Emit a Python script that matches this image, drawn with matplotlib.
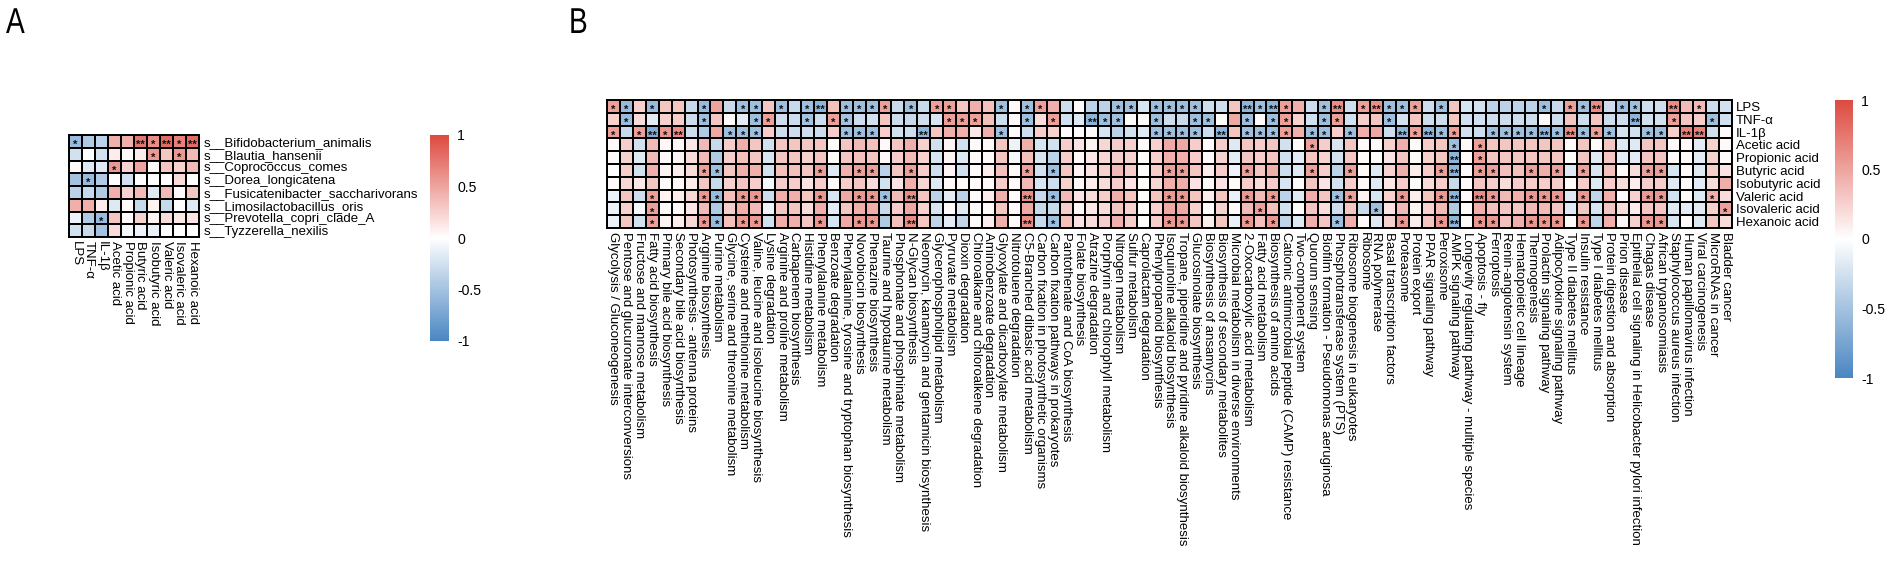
import numpy as np
import matplotlib
matplotlib.use("Agg")
import matplotlib.pyplot as plt
from matplotlib.colors import LinearSegmentedColormap, Normalize
from matplotlib.cm import ScalarMappable
from matplotlib.textpath import TextPath
from matplotlib.patches import PathPatch
from matplotlib.font_manager import FontProperties
from matplotlib.transforms import Affine2D

plt.rcParams["font.family"] = ["Liberation Sans", "DejaVu Sans"]

# ==========================================================
# PANEL A DATA  (species x metabolites, read as r x 80)
# ==========================================================

a_cols = ["LPS", "TNF-α", "IL-1β", "Acetic acid", "Propionic acid",
          "Butyric acid", "Isobutyric acid", "Valeric acid",
          "Isovaleric acid", "Hexanoic acid"]

a_rows = ["s__Bifidobacterium_animalis", "s__Blautia_hansenii",
          "s__Coprococcus_comes", "s__Dorea_longicatena",
          "s__Fusicatenibacter_saccharivorans", "s__Limosilactobacillus_oris",
          "s__Prevotella_copri_clade_A", "s__Tyzzerella_nexilis"]

a_bifido = [-45, -35, -30, 35, 35, 60, 50, 65, 55, 65]
a_blautia = [-20, 0, -20, 8, 3, 8, 45, 25, 45, 30]
a_copro = [2, -15, -15, 45, 20, 40, 3, 25, 20, 30]
a_dorea = [-40, -45, -35, 0, -20, 0, 0, 0, 15, 0]
a_fusi = [-30, -25, -35, 35, 20, 30, -15, 30, 3, 25]
a_limo = [35, 35, 8, -15, 2, -25, 5, -25, 0, -15]
a_prevo = [-8, -35, -45, 25, 3, 20, 5, 15, 10, 12]
a_tyzz = [-20, -25, -40, 15, -5, -8, -10, 0, 0, 0]

# significance marks: (row, col, mark)
a_stars = [(0, 0, "*"), (0, 5, "**"), (0, 6, "*"), (0, 7, "**"), (0, 8, "*"),
           (0, 9, "**"), (1, 6, "*"), (1, 8, "*"), (2, 3, "*"), (3, 1, "*"),
           (6, 2, "*")]

# ==========================================================
# PANEL B DATA  (metabolites x KEGG pathways, read as r x 80)
# ==========================================================

b_rows = a_cols

b_cols = [
    "Glycolysis / Gluconeogenesis",
    "Pentose and glucuronate interconversions",
    "Fructose and mannose metabolism",
    "Fatty acid biosynthesis",
    "Primary bile acid biosynthesis",
    "Secondary bile acid biosynthesis",
    "Photosynthesis - antenna proteins",
    "Arginine biosynthesis",
    "Purine metabolism",
    "Glycine, serine and threonine metabolism",
    "Cysteine and methionine metabolism",
    "Valine, leucine and isoleucine biosynthesis",
    "Lysine degradation",
    "Arginine and proline metabolism",
    "Carbapenem biosynthesis",
    "Histidine metabolism",
    "Phenylalanine metabolism",
    "Benzoate degradation",
    "Phenylalanine, tyrosine and tryptophan biosynthesis",
    "Novobiocin biosynthesis",
    "Phenazine biosynthesis",
    "Taurine and hypotaurine metabolism",
    "Phosphonate and phosphinate metabolism",
    "N-Glycan biosynthesis",
    "Neomycin, kanamycin and gentamicin biosynthesis",
    "Glycerophospholipid metabolism",
    "Pyruvate metabolism",
    "Dioxin degradation",
    "Chloroalkane and chloroalkene degradation",
    "Aminobenzoate degradation",
    "Glyoxylate and dicarboxylate metabolism",
    "Nitrotoluene degradation",
    "C5-Branched dibasic acid metabolism",
    "Carbon fixation in photosynthetic organisms",
    "Carbon fixation pathways in prokaryotes",
    "Pantothenate and CoA biosynthesis",
    "Folate biosynthesis",
    "Atrazine degradation",
    "Porphyrin and chlorophyll metabolism",
    "Nitrogen metabolism",
    "Sulfur metabolism",
    "Caprolactam degradation",
    "Phenylpropanoid biosynthesis",
    "Isoquinoline alkaloid biosynthesis",
    "Tropane, piperidine and pyridine alkaloid biosynthesis",
    "Glucosinolate biosynthesis",
    "Biosynthesis of ansamycins",
    "Biosynthesis of secondary metabolites",
    "Microbial metabolism in diverse environments",
    "2-Oxocarboxylic acid metabolism",
    "Fatty acid metabolism",
    "Biosynthesis of amino acids",
    "Cationic antimicrobial peptide (CAMP) resistance",
    "Two-component system",
    "Quorum sensing",
    "Biofilm formation - Pseudomonas aeruginosa",
    "Phosphotransferase system (PTS)",
    "Ribosome biogenesis in eukaryotes",
    "Ribosome",
    "RNA polymerase",
    "Basal transcription factors",
    "Proteasome",
    "Protein export",
    "PPAR signaling pathway",
    "Peroxisome",
    "AMPK signaling pathway",
    "Longevity regulating pathway - multiple species",
    "Apoptosis - fly",
    "Ferroptosis",
    "Renin-angiotensin system",
    "Hematopoietic cell lineage",
    "Thermogenesis",
    "Prolactin signaling pathway",
    "Adipocytokine signaling pathway",
    "Type II diabetes mellitus",
    "Insulin resistance",
    "Type I diabetes mellitus",
    "Protein digestion and absorption",
    "Prion disease",
    "Epithelial cell signaling in Helicobacter pylori infection",
    "Chagas disease",
    "African trypanosomiasis",
    "Staphylococcus aureus infection",
    "Human papillomavirus infection",
    "Viral carcinogenesis",
    "MicroRNAs in cancer",
    "Bladder cancer",
]

b_lps = [42, -45, 20, -45, 25, 25, -25, -45, 40, -25,
         -42, -42, 25, -42, -25, -42, -50, 28, -42, -42,
         -42, 42, -25, -42, -25, 42, 42, 25, 35, 28,
         -42, 3, -42, 42, 35, -22, 2, -30, -30, -42,
         -42, -18, -42, -42, -42, -42, -22, -22, 25, -50,
         -42, -50, 42, 35, -22, -42, 50, -22, 42, 50,
         -42, -42, 42, -22, -42, 25, -18, -20, -30, -30,
         -30, -30, -42, -25, 42, -42, 50, -22, -42, -42,
         -22, -22, 50, 30, 30, -22, -20]
b_tnf = [20, -45, 15, -12, 20, 22, -22, -42, 25, 2,
         -12, -42, 42, -22, -22, -40, -22, 42, -40, -22,
         -20, 25, -22, -25, -22, -18, 42, 42, 42, 28,
         -22, 3, -42, 15, 42, -20, -15, -50, -42, -42,
         2, 2, -42, -22, -25, -42, -42, 2, 38, -42,
         2, -42, 42, 20, -20, -42, 42, -20, 22, 25,
         -42, -20, 25, -22, -22, 25, -20, -20, -22, -22,
         -22, -22, 3, -22, 25, -22, 25, -22, -22, -50,
         -20, -20, 42, 25, 22, -42, -20]
b_il1b = [42, -25, 42, -55, 45, 50, -22, -35, 38, -42,
          -42, -42, 22, -22, -22, -22, -22, 22, -42, -42,
          -42, 22, -20, -22, -50, 25, 35, 35, 10, 35,
          -42, 2, -22, 22, 20, 2, 2, 2, -18, -30,
          -20, -15, -42, -42, -42, -42, -22, -50, 25, -42,
          -42, -42, 42, 35, -42, -42, 22, -42, 35, 38,
          -22, -50, 42, -50, -42, 42, -20, -22, -42, -42,
          -42, -42, -50, -42, 50, -42, 42, -42, -20, -20,
          -42, -42, 22, 55, 55, -22, 2]
b_acetic = [2, 22, -20, 30, 3, 3, 10, 30, -25, 22,
            35, 25, -20, 25, 25, 25, 25, 2, 25, 30,
            28, 3, 25, 35, 20, -20, 5, -20, 2, 3,
            25, -8, 35, -18, -20, 22, 12, 5, 18, 22,
            20, 2, 20, 38, 38, 22, 2, 22, -15, 25,
            22, 25, -20, 2, 42, 22, -18, 25, 2, 2,
            20, 35, 2, 22, 25, -42, 2, 42, 25, 25,
            25, 25, 25, 25, 2, 25, 2, 25, -15, -15,
            25, 25, 2, 2, -12, 20, 2]
b_propionic = [2, 20, -15, 30, 3, 5, 15, 30, -35, 22,
               28, 25, -18, 25, 25, 20, 25, 2, 25, 28,
               25, 3, 22, 30, 20, -18, 5, -15, 2, 3,
               25, -5, 28, -18, -30, 22, 3, 10, 18, 22,
               20, 2, 20, 35, 35, 22, 3, 20, -12, 25,
               22, 25, -20, -12, 25, 20, -20, 25, 2, 2,
               12, 25, 2, 20, 25, -50, 2, 42, 25, 25,
               25, 25, 25, 25, 2, 25, -15, 25, -12, -12,
               25, 25, 2, 2, -12, 20, 2]
b_butyric = [0, 22, -20, 35, 5, 8, 15, 42, -42, 25,
             35, 35, -20, 28, 28, 25, 42, -15, 35, 42,
             42, -30, 25, 42, 22, -22, 5, -20, 2, 8,
             28, 2, 42, -20, -42, 25, 5, 12, 20, 30,
             22, 2, 22, 42, 42, 25, 8, 22, -8, 42,
             25, 35, -22, -15, 42, 22, -30, 42, 2, -15,
             20, 35, 8, 22, 42, -50, 3, 42, 42, 28,
             28, 42, 35, 42, -15, 42, -18, 28, 2, 15,
             42, 42, -18, 2, -15, 22, 12]
b_isobutyric = [2, 18, 10, 25, 2, 3, 8, 25, -25, 20,
                25, 22, -5, 22, 22, 12, 22, 2, 22, 25,
                15, -20, 12, 35, 18, -15, 3, 2, 2, 3,
                22, 2, 30, -18, -22, 20, 3, 8, 15, 22,
                12, 2, 18, 35, 35, 12, 2, 12, 2, 22,
                15, 22, -18, 2, 25, 12, -20, 22, 2, -15,
                10, 22, 2, 15, 22, -25, 2, 25, 22, 15,
                22, 22, 22, 22, 2, 22, -15, 22, 15, 8,
                22, 22, -15, 2, -12, 15, 35]
b_valeric = [-8, 25, -22, 42, 5, 8, 18, 45, -45, 28,
             45, 45, -22, 35, 35, 25, 45, -18, 38, 45,
             45, -42, 30, 50, 25, -30, -12, -30, 2, 8,
             35, 2, 50, -25, -45, 30, 12, 15, 22, 35,
             25, 2, 25, 45, 45, 25, 8, 25, -10, 45,
             30, 45, -30, -15, 35, 25, -42, 42, 5, -18,
             20, 45, 8, 25, 45, -50, 3, 50, 45, 30,
             35, 45, 45, 45, -15, 45, -28, 35, 2, 20,
             45, 45, -20, 2, -15, 35, 15]
b_isovaleric = [-8, 20, -5, 42, 2, 3, 10, 30, -35, 22,
                35, 30, -8, 25, 25, 15, 35, -12, 25, 35,
                35, -25, 22, 38, 20, -18, 2, -15, 2, 3,
                25, 2, 38, -25, -25, 22, 3, 10, 15, 25,
                20, 2, 20, 38, 38, 20, 2, 20, 2, 30,
                42, 28, -20, 2, 25, 15, -22, 25, -25, -42,
                12, 30, 5, 20, 30, -35, 2, 35, 28, 25,
                25, 30, 30, 25, -15, 25, -18, 25, 15, 8,
                25, 25, -15, -12, -15, 20, 42]
b_hexanoic = [-8, 25, -20, 42, 5, 8, 18, 45, -45, 28,
              45, 45, -20, 35, 35, 25, 45, -18, 38, 45,
              45, -35, 28, 50, 25, -28, -12, -28, 2, 8,
              35, 2, 50, -25, -42, 28, 12, 15, 22, 35,
              22, 2, 22, 45, 45, 25, 8, 25, -10, 45,
              28, 45, -28, -15, 35, 25, -42, 35, 2, -15,
              20, 45, 8, 25, 45, -50, 3, 45, 45, 28,
              35, 45, 45, 45, 2, 45, -28, 35, 5, 20,
              45, 45, -18, 2, -15, 25, 15]

# columns carrying "*" and "**" in each row of panel B
b_single = {
    "LPS": [0, 1, 3, 7, 10, 11, 13, 15, 18, 19, 20, 21, 23, 25, 26, 30, 32,
            33, 39, 40, 42, 43, 44, 45, 50, 52, 55, 58, 60, 61, 62, 64, 72,
            74, 75, 78, 79, 84],
    "TNF-α": [1, 7, 11, 12, 15, 17, 18, 26, 27, 28, 32, 34, 38, 39, 42, 45,
              46, 49, 51, 52, 55, 56, 60, 82, 85],
    "IL-1β": [0, 2, 4, 9, 10, 11, 18, 19, 20, 30, 42, 43, 44, 45, 49, 50, 51,
              52, 54, 55, 57, 62, 64, 65, 68, 69, 70, 71, 73, 75, 76, 77, 80,
              81],
    "Acetic acid": [54, 65, 67],
    "Propionic acid": [67],
    "Butyric acid": [7, 8, 16, 19, 20, 23, 32, 34, 43, 44, 49, 54, 57, 64,
                     67, 68, 71, 73, 75, 80, 81],
    "Isobutyric acid": [],
    "Valeric acid": [3, 7, 8, 10, 11, 16, 19, 20, 21, 34, 43, 44, 49, 51, 56,
                     57, 61, 64, 68, 71, 72, 73, 75, 80, 81, 85],
    "Isovaleric acid": [3, 50, 59, 86],
    "Hexanoic acid": [3, 7, 8, 10, 11, 16, 19, 20, 34, 43, 44, 49, 51, 56,
                      61, 64, 67, 68, 71, 72, 73, 75, 80, 81],
}
b_double = {
    "LPS": [16, 49, 51, 56, 59, 76, 82],
    "TNF-α": [37, 79],
    "IL-1β": [3, 5, 24, 47, 61, 63, 72, 74, 83, 84],
    "Acetic acid": [],
    "Propionic acid": [65],
    "Butyric acid": [65],
    "Isobutyric acid": [],
    "Valeric acid": [23, 32, 65, 67],
    "Isovaleric acid": [],
    "Hexanoic acid": [23, 32, 65],
}

READ_UNIT = 80.0   # readings above are r x 80

# ==========================================================
# STYLE
# ==========================================================

cmap = LinearSegmentedColormap.from_list(
    "rb", ["#4a86c2", "#ffffff", "#dd4a40"]
)
norm = Normalize(vmin=-1, vmax=1)

FS = 9.5
W, H = 1890, 561

fig = plt.figure(figsize=(W / 100, H / 100), dpi=100)


def px_axes(x0, y0, x1, y1):
    # axes from pixel box (top-left origin)
    return fig.add_axes([x0 / W, 1 - y1 / H, (x1 - x0) / W, (y1 - y0) / H])


def draw_heat(ax, mat, stars):
    ax.pcolormesh(mat, cmap=cmap, norm=norm, edgecolors="black",
                  linewidth=1.1)
    ax.set_xlim(0, mat.shape[1])
    ax.set_ylim(mat.shape[0], 0)
    for s in ax.spines.values():
        s.set_linewidth(1.4)
    for (i, j, mark) in stars:
        ax.text(j + 0.5, i + 0.78, mark, ha="center", va="center",
                fontsize=8, fontweight="bold", color="#111111")


def draw_cbar(x0, y0, x1, y1):
    cax = px_axes(x0, y0, x1, y1)
    cb = fig.colorbar(ScalarMappable(norm=norm, cmap=cmap), cax=cax)
    cb.outline.set_visible(False)
    cb.set_ticks([-1, -0.5, 0, 0.5, 1])
    cb.set_ticklabels(["-1", "-0.5", "0", "0.5", "1"])
    cax.tick_params(length=0, pad=6, labelsize=FS + 0.6)


# ==========================================================
# PANEL A
# ==========================================================

mat_a = np.array([a_bifido, a_blautia, a_copro, a_dorea,
                  a_fusi, a_limo, a_prevo, a_tyzz]) / READ_UNIT

ax_a = px_axes(69, 135, 199, 237)
draw_heat(ax_a, mat_a, a_stars)
ax_a.set_xticks(np.arange(len(a_cols)) + 0.5)
ax_a.set_xticklabels(a_cols, rotation=270, ha="center", va="top",
                     fontsize=FS)
ax_a.yaxis.tick_right()
ax_a.set_yticks(np.arange(len(a_rows)) + 0.5)
ax_a.set_yticklabels(a_rows, fontsize=FS)
ax_a.tick_params(length=0, pad=3)

draw_cbar(430, 135, 449, 341)

# ==========================================================
# PANEL B
# ==========================================================

mat_b = np.array([b_lps, b_tnf, b_il1b, b_acetic, b_propionic, b_butyric,
                  b_isobutyric, b_valeric, b_isovaleric,
                  b_hexanoic]) / READ_UNIT

b_stars = []
for i, name in enumerate(b_rows):
    b_stars += [(i, j, "*") for j in b_single[name]]
    b_stars += [(i, j, "**") for j in b_double[name]]

ax_b = px_axes(607, 100, 1732, 228)
draw_heat(ax_b, mat_b, b_stars)
ax_b.set_xticks(np.arange(len(b_cols)) + 0.5)
ax_b.set_xticklabels(b_cols, rotation=270, ha="center", va="top",
                     fontsize=FS)
ax_b.yaxis.tick_right()
ax_b.set_yticks(np.arange(len(b_rows)) + 0.5)
ax_b.set_yticklabels(b_rows, fontsize=FS)
ax_b.tick_params(length=0, pad=3)

draw_cbar(1835, 100, 1853, 378)

# ==========================================================
# PANEL LETTERS (narrow glyphs, drawn in pixel space)
# ==========================================================

letter_prop = FontProperties(family="Liberation Sans")
for letter, x in [("A", 6), ("B", 569)]:
    tp = TextPath((0, 0), letter, size=36, prop=letter_prop)
    tr = Affine2D().scale(0.78, 1.0).translate(x, H - 33)
    fig.patches.append(PathPatch(tr.transform_path(tp), facecolor="black",
                                 edgecolor="none", transform=None,
                                 figure=fig))

fig.savefig("out.png", dpi=100)
